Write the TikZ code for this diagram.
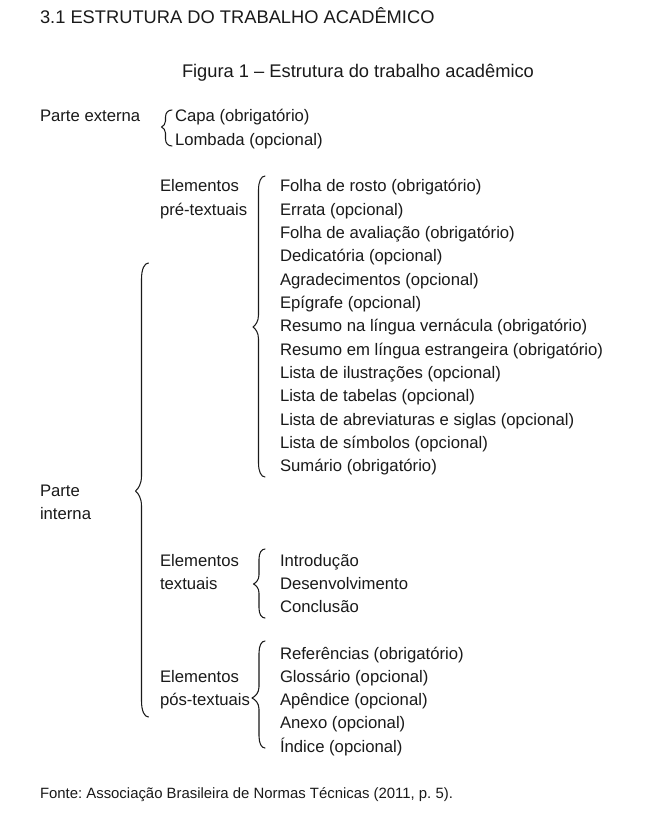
\documentclass[tikz,border=0pt]{standalone}
\usepackage{fontspec}
\setmainfont{Liberation Sans}
\frenchspacing
\definecolor{ink}{HTML}{1A1A1A}
\tikzset{
  txt/.style={anchor=base west, inner sep=0pt, outer sep=0pt, text=ink, font=\fontsize{16.7}{20}\selectfont},
  bigtxt/.style={anchor=base west, inner sep=0pt, outer sep=0pt, text=ink, font=\fontsize{18.3}{22}\selectfont},
  smalltxt/.style={anchor=base west, inner sep=0pt, outer sep=0pt, text=ink, font=\fontsize{14.9}{18}\selectfont},
  bracestyle/.style={draw=ink, line width=1.05pt, line cap=round, line join=round}
}
% #1 end x, #2 line x, #3 tip x, #4 top y, #5 tip y, #6 bottom y, #7 end radius, #8 tip radius
\newcommand\cbrace[8]{%
  \draw[bracestyle] (#1,#4)
    .. controls ({#2+0.4*(#1-#2)},#4) and (#2,{#4+0.4*#7}) .. (#2,{#4+#7})
    -- (#2,{#5-#8})
    .. controls (#2,{#5-0.5*#8}) and ({#3+0.5*(#2-#3)},{#5-0.15*#8}) .. (#3,#5)
    .. controls ({#3+0.5*(#2-#3)},{#5+0.15*#8}) and (#2,{#5+0.5*#8}) .. (#2,{#5+#8})
    -- (#2,{#6-#7})
    .. controls (#2,{#6-0.4*#7}) and ({#2+0.4*(#1-#2)},#6) .. (#1,#6);
}
\begin{document}
\begin{tikzpicture}[x=1pt, y=-1pt]
\useasboundingbox[fill=white] (0,0) rectangle (646,818);

\node[bigtxt] (title) at (40,24) {3.1 ESTRUTURA DO TRABALHO ACADÊMICO};
\node[bigtxt] (cap) at (182,77.5) {Figura 1 – Estrutura do trabalho acadêmico};

% Parte externa
\node[txt] (pe) at (40,122) {Parte externa};
\node[txt] (capa) at (175,122) {Capa (obrigatório)};
\node[txt] (lomb) at (175,145.5) {Lombada (opcional)};
\cbrace{172}{165.5}{161.5}{110}{127}{146}{7}{6}

% Pré-textuais
\node[txt] (pre1) at (160,192) {Elementos};
\node[txt] (pre2) at (160,215.3) {pré-textuais};
\node[txt] (a1) at (280,192) {Folha de rosto (obrigatório)};
\node[txt] (a2) at (280,215.3) {Errata (opcional)};
\node[txt] (a3) at (280,238.6) {Folha de avaliação (obrigatório)};
\node[txt] (a4) at (280,261.9) {Dedicatória (opcional)};
\node[txt] (a5) at (280,285.2) {Agradecimentos (opcional)};
\node[txt] (a6) at (280,308.5) {Epígrafe (opcional)};
\node[txt] (a7) at (280,331.8) {Resumo na língua vernácula (obrigatório)};
\node[txt] (a8) at (280,355.1) {Resumo em língua estrangeira (obrigatório)};
\node[txt] (a9) at (280,378.4) {Lista de ilustrações (opcional)};
\node[txt] (a10) at (280,401.7) {Lista de tabelas (opcional)};
\node[txt] (a11) at (280,425) {Lista de abreviaturas e siglas (opcional)};
\node[txt] (a12) at (280,448.3) {Lista de símbolos (opcional)};
\node[txt] (a13) at (280,471.6) {Sumário (obrigatório)};
\cbrace{265}{258.5}{253}{176}{327}{477}{14}{12}

% Parte interna
\node[txt] (pi1) at (40,496) {Parte};
\node[txt] (pi2) at (40,519.3) {interna};
\cbrace{148.5}{141.5}{135.5}{263}{491}{717}{16}{15}

% Textuais
\node[txt] (tx1) at (160,566) {Elementos};
\node[txt] (tx2) at (160,589.3) {textuais};
\node[txt] (b1) at (280,566) {Introdução};
\node[txt] (b2) at (280,589.3) {Desenvolvimento};
\node[txt] (b3) at (280,612.6) {Conclusão};
\cbrace{265}{259}{253.5}{549}{584}{618}{10}{9}

% Pós-textuais
\node[txt] (po1) at (160,682.3) {Elementos};
\node[txt] (po2) at (160,705.6) {pós-textuais};
\node[txt] (c1) at (280,659) {Referências (obrigatório)};
\node[txt] (c2) at (280,682.3) {Glossário (opcional)};
\node[txt] (c3) at (280,705.6) {Apêndice (opcional)};
\node[txt] (c4) at (280,728.9) {Anexo (opcional)};
\node[txt] (c5) at (280,752.2) {Índice (opcional)};
\cbrace{265}{259}{252}{641}{698}{748}{12}{11}

\node[smalltxt] (fonte) at (40,798) {Fonte: Associação Brasileira de Normas Técnicas (2011, p. 5).};
\end{tikzpicture}
\end{document}
